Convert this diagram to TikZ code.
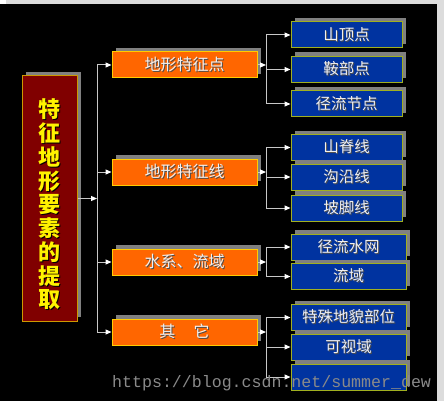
\documentclass[tikz,border=0pt]{standalone}
\usepackage{fontspec}
\newfontfamily\cjk{Noto Sans CJK SC}
\newfontfamily\wmfont{Liberation Mono}
\usetikzlibrary{arrows.meta,shadows}
\definecolor{bluefill}{HTML}{0033A0}
\definecolor{blueline}{HTML}{A0B020}
\definecolor{orfill}{HTML}{FF6600}
\definecolor{orline}{HTML}{FFCC00}
\definecolor{redfill}{HTML}{800000}
\definecolor{redline}{HTML}{CC9900}
\definecolor{shade}{HTML}{808080}
\definecolor{conn}{HTML}{C8C8C8}
\definecolor{stripgray}{HTML}{DCDCDC}
\definecolor{wmgray}{HTML}{8A8A8A}
\definecolor{boxtext}{HTML}{F0F0F0}
\newcommand\shtx[2]{\makebox[0pt][l]{\kern1pt\raisebox{-1pt}{\textcolor{#1}{#2}}}#2}
\tikzset{
  basebox/.style={draw, line width=1pt, inner sep=0pt, minimum height=26pt,
    drop shadow={shadow xshift=4pt, shadow yshift=4pt, fill=shade, opacity=1}},
  mainbox/.style={basebox, fill=redfill, draw=redline, minimum width=55pt, minimum height=245pt},
  orbox/.style={basebox, fill=orfill, draw=orline, minimum width=145pt, text=boxtext,
    font=\cjk\fontsize{16}{18}\selectfont},
  bluebox/.style={basebox, fill=bluefill, draw=blueline, minimum width=111pt, text=boxtext,
    font=\cjk\fontsize{15.5}{18}\selectfont},
  bluewide/.style={bluebox, minimum width=115pt},
  line/.style={draw=conn, line width=1pt},
  arr/.style={line, -{Triangle[length=6pt,width=5pt,fill=white,color=white]}},
}
\begin{document}
\begin{tikzpicture}[x=1pt,y=-1pt]
\useasboundingbox (0,0) rectangle (444,401);
% background
\fill[black] (0,4) rectangle (437,401);
\fill[white] (0,0) rectangle (6,4);
\fill[stripgray] (6,0) rectangle (444,4);
\fill[stripgray] (437,0) rectangle (444,401);
% main box
\node[mainbox] (m) at (49.5,198.5) {};
\node[align=center, text=yellow, inner sep=0pt,
  font=\cjk\bfseries\fontsize{22}{23.75}\selectfont] (mt) at (49.5,205)
  {\shtx{black}{特}\\\shtx{black}{征}\\\shtx{black}{地}\\\shtx{black}{形}\\\shtx{black}{要}\\\shtx{black}{素}\\\shtx{black}{的}\\\shtx{black}{提}\\\shtx{black}{取}};
% level 2
\node[orbox] (o1) at (184.5,65) {\shtx{shade!60!black}{地形特征点}};
\node[orbox] (o2) at (184.5,172) {\shtx{shade!60!black}{地形特征线}};
\node[orbox] (o3) at (184.5,262) {\shtx{shade!60!black}{水系、流域}};
\node[orbox] (o4) at (184.5,332) {\shtx{shade!60!black}{其\hspace{1.15em}它}};
% level 3
\node[bluebox] (a1) at (346.5,35) {\shtx{shade!60!black}{山顶点}};
\node[bluebox] (a2) at (346.5,69.5) {\shtx{shade!60!black}{鞍部点}};
\node[bluebox] (a3) at (346.5,104) {\shtx{shade!60!black}{径流节点}};
\node[bluebox] (b1) at (346.5,147.5) {\shtx{shade!60!black}{山脊线}};
\node[bluebox] (b2) at (346.5,177) {\shtx{shade!60!black}{沟沿线}};
\node[bluebox] (b3) at (346.5,208) {\shtx{shade!60!black}{坡脚线}};
\node[bluewide] (c1) at (348.5,247) {\shtx{shade!60!black}{径流水网}};
\node[bluewide] (c2) at (348.5,276.5) {\shtx{shade!60!black}{流域}};
\node[bluewide] (d1) at (348.5,317.5) {\shtx{shade!60!black}{特殊地貌部位}};
\node[bluewide] (d2) at (348.5,347) {\shtx{shade!60!black}{可视域}};
\node[bluewide] (d3) at (348.5,377) {};
% connectors
\coordinate (t) at (97,0);
\coordinate (bus) at (266,0);
\draw[line] (o1.west -| t) -- (o4.west -| t);
\draw[arr] (m.east) -- (m.east -| t);
\foreach \n in {o1,o2,o3,o4} \draw[arr] (\n.west -| t) -- (\n.west);
% group buses
\draw[line] (a1.west -| bus) -- (a3.west -| bus);
\draw[line] (b1.west -| bus) -- (b3.west -| bus);
\draw[line] (c1.west -| bus) -- (c2.west -| bus);
\draw[line] (d1.west -| bus) -- (d3.west -| bus);
\draw[arr] (o1.east) -- (o1.east -| bus);
\draw[arr] (o2.east) -- (o2.east -| bus);
\draw[arr] (o3.east) -- (o3.east -| bus);
\draw[arr] (o4.east) -- (o4.east -| bus);
\foreach \n in {a1,a2,a3,b1,b2,b3,c1,c2,d1,d2,d3} \draw[arr] (\n.west -| bus) -- (\n.west);
% watermark
\node[anchor=base west, inner sep=0pt, text=wmgray, font=\wmfont\fontsize{16.6}{18}\selectfont] (wm) at (112,387) {https://blog.csdn.net/summer\_dew};
\end{tikzpicture}
\end{document}
